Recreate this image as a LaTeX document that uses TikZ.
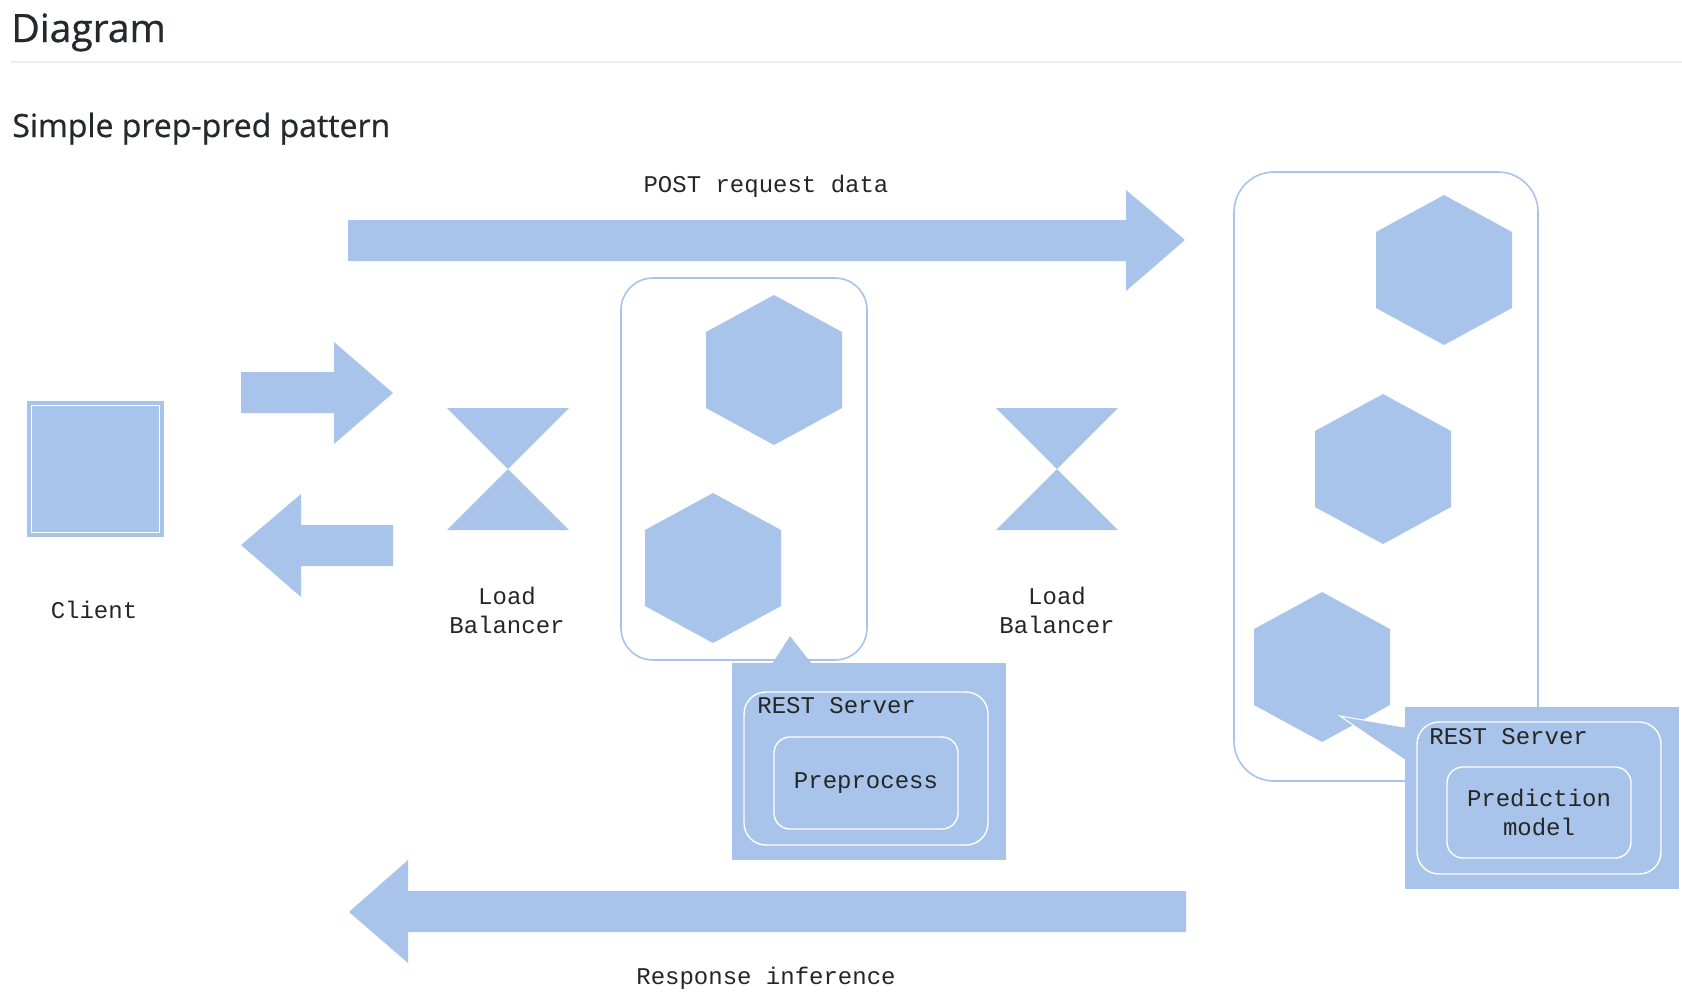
\documentclass[tikz,border=0pt]{standalone}
\usepackage{fontspec}
\setmainfont{Open Sans}
\setmonofont{Liberation Mono}
\newfontfamily\headfont[FakeBold=0.7]{Open Sans}
\usetikzlibrary{positioning}
\definecolor{ppblue}{HTML}{A9C4EA}
\definecolor{ppline}{HTML}{A9C4EA}
\definecolor{pptext}{HTML}{24292E}
\definecolor{pprule}{HTML}{EAECEF}

\begin{document}
\begin{tikzpicture}[
    x=0.5pt, y=-0.5pt,
    tag/.style={font=\ttfamily\fontsize{12}{14.5}\selectfont, text=black!85, align=center, inner sep=0pt},
    heading/.style={text=pptext, anchor=base west, inner sep=0pt},
    blockarrow/.style={fill=ppblue},
    cell/.style={draw=ppline, line width=0.8pt, rounded corners=16pt, inner sep=0pt},
    callout/.style={fill=ppblue, inner sep=0pt},
    srvbox/.style={draw=white, line width=0.7pt, rounded corners=11pt, inner sep=0pt},
    hexcell/.pic={\fill[ppblue] (0,-75) -- (68,-38) -- (68,38) -- (0,75) -- (-68,38) -- (-68,-38) -- cycle;},
    lbal/.pic={\fill[ppblue] (-61,-61) -- (61,-61) -- (0,0) -- (61,61) -- (-61,61) -- (0,0) -- cycle;}
]
    \useasboundingbox (0,0) rectangle (1682,993);

    % Headings
    \node[heading, font=\headfont\fontsize{19.5}{23}\selectfont] (title) at (11,42) {Diagram};
    \draw[pprule, line width=0.7pt] (11,62) -- (1682,62);
    \node[heading, font=\headfont\fontsize{16}{19}\selectfont] (subtitle) at (12,137) {Simple prep-pred pattern};

    % Client
    \node[callout, draw=ppline, line width=0.6pt, minimum width=67.5pt, minimum height=67pt] (client) at (95.5,469) {};
    \draw[white, line width=0.6pt] ([shift={(2pt,-2pt)}]client.north west) rectangle ([shift={(-2pt,2pt)}]client.south east);
    \node[tag] (clientlbl) at (94,610) {Client};

    % Client <-> load balancer
    \fill[blockarrow] (241,372) -- (334,372) -- (334,342) -- (393,393) -- (334,444) -- (334,413) -- (241,413) -- cycle;
    \fill[blockarrow] (393,525) -- (301,525) -- (301,494) -- (241,545) -- (301,597) -- (301,566) -- (393,566) -- cycle;

    % Load balancers
    \pic (lbA) at (508,469) {lbal};
    \pic (lbB) at (1057,469) {lbal};
    \node[tag] (lbAlbl) at (507,610) {Load\\Balancer};
    \node[tag] (lbBlbl) at (1057,610) {Load\\Balancer};

    % POST request data
    \fill[blockarrow] (348,220) -- (1126,220) -- (1126,190) -- (1185,240) -- (1126,291) -- (1126,261) -- (348,261) -- cycle;
    \node[tag] (postlbl) at (766,186) {POST request data};

    % Response inference
    \fill[blockarrow] (1186,891) -- (408,891) -- (408,860) -- (349,912) -- (408,963) -- (408,932) -- (1186,932) -- cycle;
    \node[tag] (resplbl) at (766,978) {Response inference};

    % Preprocess cluster
    \node[cell, minimum width=123pt, minimum height=191pt] (prepcell) at (744,469) {};
    \pic (prepA) at (774,370) {hexcell};
    \pic (prepB) at (713,568) {hexcell};

    % Prediction cluster
    \node[cell, rounded corners=20pt, minimum width=152pt, minimum height=304.5pt] (predcell) at (1386,476.5) {};
    \pic (predA) at (1444,270) {hexcell};
    \pic (predB) at (1383,469) {hexcell};
    \pic (predC) at (1322,667) {hexcell};

    % REST Server callouts
    \node[callout, minimum width=137pt, minimum height=98.5pt] (prepsrv) at (869,761.5) {};
    \fill[ppblue] (772,664) -- (790,636) -- (812,664) -- cycle;
    \node[srvbox, minimum width=122pt, minimum height=76.5pt] (prepsrvin) at (866,768.5) {};
    \node[srvbox, rounded corners=8pt, minimum width=92pt, minimum height=46pt, tag] (prepmod) at (866,783) {Preprocess};
    \node[tag, anchor=west] (prepsrvlbl) at (757,706) {REST Server};

    \node[callout, minimum width=137pt, minimum height=91pt] (predsrv) at (1542,798) {};
    \fill[ppblue] (1406,727) -- (1340,716) -- (1406,760) -- cycle;
    \draw[white, line width=0.5pt] (1404,727) -- (1340,716) -- (1404,760);
    \node[srvbox, minimum width=122pt, minimum height=76pt] (predsrvin) at (1539,798) {};
    \node[srvbox, rounded corners=8pt, minimum width=92pt, minimum height=45.5pt, tag] (predmod) at (1539,812.5) {Prediction\\model};
    \node[tag, anchor=west] (predsrvlbl) at (1429,737) {REST Server};
\end{tikzpicture}
\end{document}
